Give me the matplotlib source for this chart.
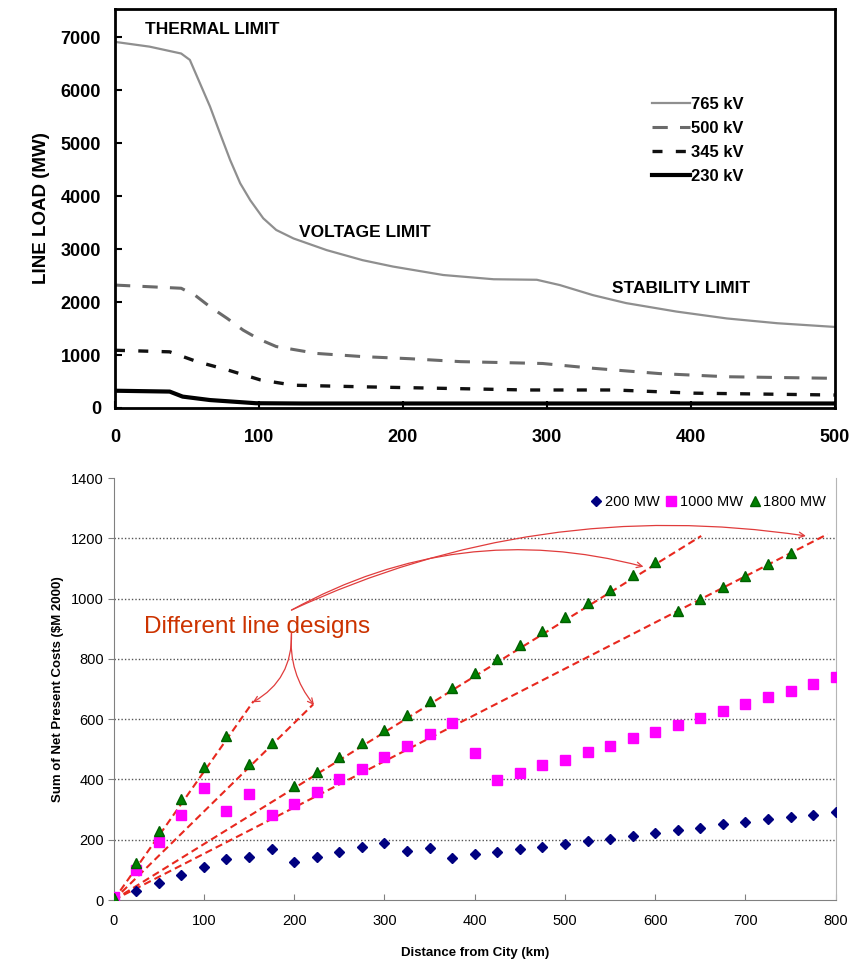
import matplotlib.pyplot as plt

# line loadability vs length, per voltage class
x765 = [0, 24, 46, 52, 59, 66, 73, 80, 87, 94, 103, 112, 124, 147, 172, 193, 228, 263, 293,
        309, 332, 355, 390, 425, 460, 500]
y765 = [6910, 6820, 6690, 6570, 6130, 5690, 5180, 4680, 4240, 3920, 3580, 3360, 3200, 2980,
        2790, 2670, 2510, 2430, 2420, 2320, 2130, 1980, 1820, 1690, 1600, 1530]
x500 = [0, 46, 56, 66, 78, 89, 100, 112, 140, 172, 205, 240, 297, 332, 378, 425, 500]
y500 = [2320, 2260, 2120, 1910, 1690, 1470, 1300, 1160, 1030, 970, 930, 875, 840, 750, 650,
        590, 560]
x345 = [0, 38, 57, 78, 101, 124, 172, 230, 286, 347, 402, 500]
y345 = [1090, 1060, 875, 720, 530, 430, 400, 370, 340, 340, 280, 245]
x230 = [0, 38, 47, 66, 98, 130, 200, 300, 400, 500]
y230 = [326, 310, 215, 150, 90, 85, 85, 85, 85, 85]

# net present cost vs distance
dist = list(range(0, 801, 25))
npc_200 = [5, 31, 58, 83, 108, 137, 144, 170, 126, 144, 158, 175, 188, 163, 174, 140, 152, 158,
           170, 177, 185, 197, 202, 213, 221, 232, 239, 251, 258, 269, 276, 283, 293]
npc_1000 = [9, 100, 191, 281, 373, 295, 351, 281, 318, 358, 400, 435, 476, 511, 552, 587, 487, 398,
            420, 447, 464, 491, 512, 537, 557, 582, 604, 626, 650, 674, 695, 716, 741]
dist_1800 = list(range(0, 751, 25))
npc_1800 = [5, 124, 229, 334, 440, 545, 450, 522, 378, 426, 476, 522, 564, 613, 660, 705, 752, 799,
            846, 893, 939, 984, 1029, 1078, 1123, 959, 999, 1037, 1076, 1115, 1152]

# dashed design trend lines (end points, all start at the origin)
design_end_x = [155, 221, 651, 791]
design_end_y = [660, 649, 1208, 1214]

fig = plt.figure(figsize=(8.58, 9.6), dpi=100)
plt.rcParams['font.family'] = ['Liberation Sans', 'DejaVu Sans']

# ---- top panel ----
ax1 = fig.add_axes([0.134, 0.575, 0.839, 0.4156])
ax1.plot(x765, y765, color='#8f8f8f', lw=1.6, label='765 kV')
ax1.plot(x500, y500, color='#6a6a6a', lw=2.2, dashes=(5, 4), label='500 kV')
ax1.plot(x345, y345, color='#111111', lw=2.4, dashes=(3, 4), label='345 kV')
ax1.plot(x230, y230, color='#000000', lw=3, label='230 kV')
ax1.set_xlim(0, 500)
ax1.set_ylim(0, 7530)
ax1.set_xticks(range(0, 501, 100))
ax1.set_yticks(range(0, 7001, 1000))
for s in ax1.spines.values():
    s.set_linewidth(2)
ax1.tick_params(direction='in', length=5, width=1.5, labelsize=13)
ax1.tick_params(axis='x', pad=15)
ax1.tick_params(axis='y', pad=10)
for lbl in ax1.get_xticklabels() + ax1.get_yticklabels():
    lbl.set_fontweight('bold')
ax1.set_ylabel('LINE LOAD (MW)', fontsize=13.5, fontweight='bold', labelpad=8)
ax1.text(21, 7050, 'THERMAL LIMIT', fontsize=12.5, fontweight='bold')
ax1.text(128, 3220, 'VOLTAGE LIMIT', fontsize=12.5, fontweight='bold')
ax1.text(345, 2170, 'STABILITY LIMIT', fontsize=12.5, fontweight='bold')
ax1.legend(loc='upper left', bbox_to_anchor=(0.725, 0.818), frameon=False,
           handlelength=2.3, handletextpad=0.05, labelspacing=0.55,
           prop={'weight': 'bold', 'size': 12})

# ---- bottom panel ----
ax2 = fig.add_axes([0.1325, 0.0625, 0.8415, 0.4395])
ax2.set_xlim(0, 800)
ax2.set_ylim(0, 1400)
for yg in range(200, 1201, 200):
    ax2.axhline(yg, color='#555555', lw=1, ls=(0, (1, 1.5)), zorder=0)

for ex, ey in zip(design_end_x, design_end_y):
    ax2.plot([0, ex], [0, ey], color='#e8281e', lw=1.5, dashes=(3.5, 2), zorder=3)

ax2.plot(dist, npc_200, ls='none', marker='D', ms=5.5, color='#000080', label='200 MW', zorder=4)
ax2.plot(dist, npc_1000, ls='none', marker='s', ms=7, color='#ff00ff', label='1000 MW', zorder=4)
ax2.plot(dist_1800, npc_1800, ls='none', marker='^', ms=7.5, color='#008000',
         mec='#006000', label='1800 MW', zorder=4)

ax2.text(34, 905, 'Different line designs', fontsize=17.5, color='#cc3300', va='center')
arrow_kw = dict(arrowstyle='->', color='#e03c3c', lw=0.9, shrinkA=0, shrinkB=0)
ax2.annotate('', xy=(587, 1106), xytext=(197, 962),
             arrowprops=dict(connectionstyle='arc3,rad=-0.2', **arrow_kw))
ax2.annotate('', xy=(767, 1208), xytext=(197, 962),
             arrowprops=dict(connectionstyle='arc3,rad=-0.15', **arrow_kw))
ax2.annotate('', xy=(154, 656), xytext=(197, 885),
             arrowprops=dict(connectionstyle='arc3,rad=-0.3', **arrow_kw))
ax2.annotate('', xy=(222, 647), xytext=(197, 885),
             arrowprops=dict(connectionstyle='arc3,rad=0.2', **arrow_kw))

ax2.set_xticks(range(0, 801, 100))
ax2.set_yticks(range(0, 1401, 200))
ax2.spines['top'].set_visible(False)
ax2.spines['right'].set_color('#b5b5b5')
ax2.spines['left'].set_color('#808080')
ax2.spines['bottom'].set_color('#808080')
ax2.tick_params(axis='x', direction='in', length=4, color='#808080', labelsize=10.5, pad=10)
ax2.tick_params(axis='y', direction='out', length=4, color='#808080', labelsize=10.5, pad=3)
ax2.set_xlabel('Distance from City (km)', fontsize=9.5, fontweight='bold', labelpad=14)
ax2.set_ylabel('Sum of Net Present Costs ($M 2000)', fontsize=9.5, fontweight='bold', labelpad=5)
ax2.legend(loc='upper right', bbox_to_anchor=(1.005, 0.99), ncol=3, frameon=False,
           handlelength=0.8, handletextpad=0.2, columnspacing=0.4, fontsize=10.5)

fig.savefig('out.png', dpi=100)
